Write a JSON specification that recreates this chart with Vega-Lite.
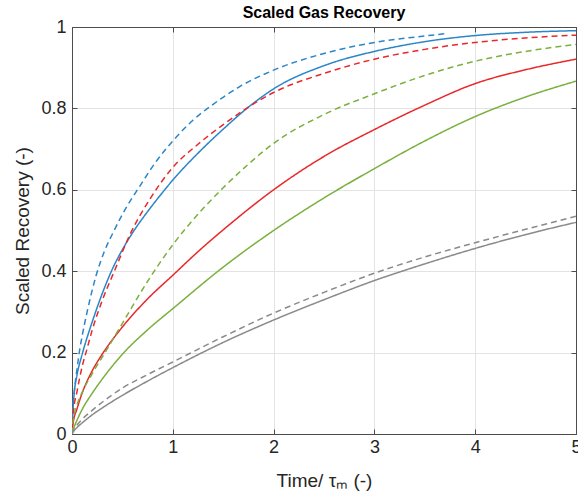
{
  "$schema": "https://vega.github.io/schema/vega-lite/v6.json",
  "autosize": {"type": "none"},
  "width": 504,
  "height": 407,
  "padding": {"left": 72, "top": 27, "right": 2, "bottom": 70},
  "background": "white",
  "config": {
    "font": "Liberation Sans",
    "view": {"stroke": "#4d4d4d", "strokeWidth": 1}
  },
  "title": {
    "text": "Scaled Gas Recovery",
    "fontSize": 16,
    "fontWeight": "bold",
    "color": "#000000",
    "anchor": "middle",
    "offset": -3
  },
  "data": {
    "values": [
      {"case": "c1", "line": "solid", "time": 0, "recovery": 0},
      {"case": "c1", "line": "solid", "time": 0.01, "recovery": 0.06},
      {"case": "c1", "line": "solid", "time": 0.02, "recovery": 0.095},
      {"case": "c1", "line": "solid", "time": 0.05, "recovery": 0.145},
      {"case": "c1", "line": "solid", "time": 0.1, "recovery": 0.195},
      {"case": "c1", "line": "solid", "time": 0.2, "recovery": 0.275},
      {"case": "c1", "line": "solid", "time": 0.3, "recovery": 0.345},
      {"case": "c1", "line": "solid", "time": 0.4, "recovery": 0.405},
      {"case": "c1", "line": "solid", "time": 0.5, "recovery": 0.453},
      {"case": "c1", "line": "solid", "time": 0.6, "recovery": 0.494},
      {"case": "c1", "line": "solid", "time": 0.77, "recovery": 0.553},
      {"case": "c1", "line": "solid", "time": 0.9, "recovery": 0.594},
      {"case": "c1", "line": "solid", "time": 1.0, "recovery": 0.624},
      {"case": "c1", "line": "solid", "time": 1.25, "recovery": 0.69},
      {"case": "c1", "line": "solid", "time": 1.5, "recovery": 0.749},
      {"case": "c1", "line": "solid", "time": 1.75, "recovery": 0.803},
      {"case": "c1", "line": "solid", "time": 2.0, "recovery": 0.848},
      {"case": "c1", "line": "solid", "time": 2.5, "recovery": 0.905},
      {"case": "c1", "line": "solid", "time": 3.0, "recovery": 0.94},
      {"case": "c1", "line": "solid", "time": 3.5, "recovery": 0.964},
      {"case": "c1", "line": "solid", "time": 4.0, "recovery": 0.979},
      {"case": "c1", "line": "solid", "time": 4.5, "recovery": 0.987},
      {"case": "c1", "line": "solid", "time": 5.0, "recovery": 0.991},

      {"case": "c1", "line": "dashed", "time": 0, "recovery": 0},
      {"case": "c1", "line": "dashed", "time": 0.01, "recovery": 0.07},
      {"case": "c1", "line": "dashed", "time": 0.025, "recovery": 0.11},
      {"case": "c1", "line": "dashed", "time": 0.05, "recovery": 0.16},
      {"case": "c1", "line": "dashed", "time": 0.075, "recovery": 0.205},
      {"case": "c1", "line": "dashed", "time": 0.1, "recovery": 0.24},
      {"case": "c1", "line": "dashed", "time": 0.15, "recovery": 0.3},
      {"case": "c1", "line": "dashed", "time": 0.24, "recovery": 0.39},
      {"case": "c1", "line": "dashed", "time": 0.32, "recovery": 0.448},
      {"case": "c1", "line": "dashed", "time": 0.41, "recovery": 0.496},
      {"case": "c1", "line": "dashed", "time": 0.53, "recovery": 0.553},
      {"case": "c1", "line": "dashed", "time": 0.67, "recovery": 0.608},
      {"case": "c1", "line": "dashed", "time": 0.83, "recovery": 0.668},
      {"case": "c1", "line": "dashed", "time": 1.0, "recovery": 0.72},
      {"case": "c1", "line": "dashed", "time": 1.2, "recovery": 0.771},
      {"case": "c1", "line": "dashed", "time": 1.4, "recovery": 0.81},
      {"case": "c1", "line": "dashed", "time": 1.66, "recovery": 0.853},
      {"case": "c1", "line": "dashed", "time": 2.0, "recovery": 0.894},
      {"case": "c1", "line": "dashed", "time": 2.5, "recovery": 0.935},
      {"case": "c1", "line": "dashed", "time": 3.0, "recovery": 0.962},
      {"case": "c1", "line": "dashed", "time": 3.5, "recovery": 0.978},
      {"case": "c1", "line": "dashed", "time": 3.72, "recovery": 0.984},

      {"case": "c2", "line": "solid", "time": 0, "recovery": 0},
      {"case": "c2", "line": "solid", "time": 0.01, "recovery": 0.025},
      {"case": "c2", "line": "solid", "time": 0.05, "recovery": 0.062},
      {"case": "c2", "line": "solid", "time": 0.1, "recovery": 0.1},
      {"case": "c2", "line": "solid", "time": 0.2, "recovery": 0.155},
      {"case": "c2", "line": "solid", "time": 0.3, "recovery": 0.196},
      {"case": "c2", "line": "solid", "time": 0.5, "recovery": 0.263},
      {"case": "c2", "line": "solid", "time": 0.75, "recovery": 0.332},
      {"case": "c2", "line": "solid", "time": 1.0, "recovery": 0.39},
      {"case": "c2", "line": "solid", "time": 1.25, "recovery": 0.448},
      {"case": "c2", "line": "solid", "time": 1.55, "recovery": 0.512},
      {"case": "c2", "line": "solid", "time": 2.0, "recovery": 0.6},
      {"case": "c2", "line": "solid", "time": 2.5, "recovery": 0.682},
      {"case": "c2", "line": "solid", "time": 3.0, "recovery": 0.748},
      {"case": "c2", "line": "solid", "time": 3.5, "recovery": 0.808},
      {"case": "c2", "line": "solid", "time": 4.0, "recovery": 0.861},
      {"case": "c2", "line": "solid", "time": 4.5, "recovery": 0.895},
      {"case": "c2", "line": "solid", "time": 5.0, "recovery": 0.921},

      {"case": "c2", "line": "dashed", "time": 0, "recovery": 0},
      {"case": "c2", "line": "dashed", "time": 0.01, "recovery": 0.045},
      {"case": "c2", "line": "dashed", "time": 0.05, "recovery": 0.105},
      {"case": "c2", "line": "dashed", "time": 0.1, "recovery": 0.165},
      {"case": "c2", "line": "dashed", "time": 0.15, "recovery": 0.21},
      {"case": "c2", "line": "dashed", "time": 0.2, "recovery": 0.255},
      {"case": "c2", "line": "dashed", "time": 0.3, "recovery": 0.328},
      {"case": "c2", "line": "dashed", "time": 0.42, "recovery": 0.4},
      {"case": "c2", "line": "dashed", "time": 0.575, "recovery": 0.49},
      {"case": "c2", "line": "dashed", "time": 0.77, "recovery": 0.576},
      {"case": "c2", "line": "dashed", "time": 1.0, "recovery": 0.655},
      {"case": "c2", "line": "dashed", "time": 1.25, "recovery": 0.712},
      {"case": "c2", "line": "dashed", "time": 1.5, "recovery": 0.76},
      {"case": "c2", "line": "dashed", "time": 1.75, "recovery": 0.803},
      {"case": "c2", "line": "dashed", "time": 2.0, "recovery": 0.839},
      {"case": "c2", "line": "dashed", "time": 2.5, "recovery": 0.886},
      {"case": "c2", "line": "dashed", "time": 3.0, "recovery": 0.921},
      {"case": "c2", "line": "dashed", "time": 3.5, "recovery": 0.945},
      {"case": "c2", "line": "dashed", "time": 4.0, "recovery": 0.962},
      {"case": "c2", "line": "dashed", "time": 4.5, "recovery": 0.973},
      {"case": "c2", "line": "dashed", "time": 5.0, "recovery": 0.98},

      {"case": "c3", "line": "solid", "time": 0, "recovery": 0},
      {"case": "c3", "line": "solid", "time": 0.02, "recovery": 0.016},
      {"case": "c3", "line": "solid", "time": 0.05, "recovery": 0.034},
      {"case": "c3", "line": "solid", "time": 0.1, "recovery": 0.06},
      {"case": "c3", "line": "solid", "time": 0.2, "recovery": 0.1},
      {"case": "c3", "line": "solid", "time": 0.3, "recovery": 0.135},
      {"case": "c3", "line": "solid", "time": 0.5, "recovery": 0.196},
      {"case": "c3", "line": "solid", "time": 0.75, "recovery": 0.256},
      {"case": "c3", "line": "solid", "time": 1.0, "recovery": 0.308},
      {"case": "c3", "line": "solid", "time": 1.5, "recovery": 0.41},
      {"case": "c3", "line": "solid", "time": 2.0, "recovery": 0.5},
      {"case": "c3", "line": "solid", "time": 2.5, "recovery": 0.58},
      {"case": "c3", "line": "solid", "time": 3.0, "recovery": 0.652},
      {"case": "c3", "line": "solid", "time": 3.5, "recovery": 0.72},
      {"case": "c3", "line": "solid", "time": 4.0, "recovery": 0.78},
      {"case": "c3", "line": "solid", "time": 4.5, "recovery": 0.828},
      {"case": "c3", "line": "solid", "time": 5.0, "recovery": 0.867},

      {"case": "c3", "line": "dashed", "time": 0, "recovery": 0},
      {"case": "c3", "line": "dashed", "time": 0.005, "recovery": 0.02},
      {"case": "c3", "line": "dashed", "time": 0.02, "recovery": 0.045},
      {"case": "c3", "line": "dashed", "time": 0.05, "recovery": 0.072},
      {"case": "c3", "line": "dashed", "time": 0.1, "recovery": 0.102},
      {"case": "c3", "line": "dashed", "time": 0.2, "recovery": 0.148},
      {"case": "c3", "line": "dashed", "time": 0.335, "recovery": 0.203},
      {"case": "c3", "line": "dashed", "time": 0.5, "recovery": 0.272},
      {"case": "c3", "line": "dashed", "time": 0.75, "recovery": 0.375},
      {"case": "c3", "line": "dashed", "time": 1.0, "recovery": 0.465},
      {"case": "c3", "line": "dashed", "time": 1.25, "recovery": 0.54},
      {"case": "c3", "line": "dashed", "time": 1.5, "recovery": 0.605},
      {"case": "c3", "line": "dashed", "time": 1.75, "recovery": 0.663},
      {"case": "c3", "line": "dashed", "time": 2.0, "recovery": 0.714},
      {"case": "c3", "line": "dashed", "time": 2.5, "recovery": 0.785},
      {"case": "c3", "line": "dashed", "time": 3.0, "recovery": 0.836},
      {"case": "c3", "line": "dashed", "time": 3.5, "recovery": 0.881},
      {"case": "c3", "line": "dashed", "time": 4.0, "recovery": 0.916},
      {"case": "c3", "line": "dashed", "time": 4.5, "recovery": 0.94},
      {"case": "c3", "line": "dashed", "time": 5.0, "recovery": 0.957},

      {"case": "c4", "line": "solid", "time": 0, "recovery": 0},
      {"case": "c4", "line": "solid", "time": 0.02, "recovery": 0.008},
      {"case": "c4", "line": "solid", "time": 0.05, "recovery": 0.016},
      {"case": "c4", "line": "solid", "time": 0.1, "recovery": 0.027},
      {"case": "c4", "line": "solid", "time": 0.2, "recovery": 0.047},
      {"case": "c4", "line": "solid", "time": 0.3, "recovery": 0.064},
      {"case": "c4", "line": "solid", "time": 0.5, "recovery": 0.095},
      {"case": "c4", "line": "solid", "time": 0.75, "recovery": 0.13},
      {"case": "c4", "line": "solid", "time": 1.0, "recovery": 0.163},
      {"case": "c4", "line": "solid", "time": 1.5, "recovery": 0.225},
      {"case": "c4", "line": "solid", "time": 2.0, "recovery": 0.28},
      {"case": "c4", "line": "solid", "time": 2.5, "recovery": 0.33},
      {"case": "c4", "line": "solid", "time": 3.0, "recovery": 0.377},
      {"case": "c4", "line": "solid", "time": 3.5, "recovery": 0.418},
      {"case": "c4", "line": "solid", "time": 4.0, "recovery": 0.456},
      {"case": "c4", "line": "solid", "time": 4.5, "recovery": 0.49},
      {"case": "c4", "line": "solid", "time": 5.0, "recovery": 0.52},

      {"case": "c4", "line": "dashed", "time": 0, "recovery": 0},
      {"case": "c4", "line": "dashed", "time": 0.02, "recovery": 0.012},
      {"case": "c4", "line": "dashed", "time": 0.05, "recovery": 0.022},
      {"case": "c4", "line": "dashed", "time": 0.1, "recovery": 0.036},
      {"case": "c4", "line": "dashed", "time": 0.2, "recovery": 0.058},
      {"case": "c4", "line": "dashed", "time": 0.3, "recovery": 0.078},
      {"case": "c4", "line": "dashed", "time": 0.5, "recovery": 0.113},
      {"case": "c4", "line": "dashed", "time": 0.75, "recovery": 0.146},
      {"case": "c4", "line": "dashed", "time": 1.0, "recovery": 0.177},
      {"case": "c4", "line": "dashed", "time": 1.5, "recovery": 0.239},
      {"case": "c4", "line": "dashed", "time": 2.0, "recovery": 0.297},
      {"case": "c4", "line": "dashed", "time": 2.5, "recovery": 0.348},
      {"case": "c4", "line": "dashed", "time": 3.0, "recovery": 0.395},
      {"case": "c4", "line": "dashed", "time": 3.5, "recovery": 0.435},
      {"case": "c4", "line": "dashed", "time": 4.0, "recovery": 0.47},
      {"case": "c4", "line": "dashed", "time": 4.5, "recovery": 0.503},
      {"case": "c4", "line": "dashed", "time": 5.0, "recovery": 0.535}
    ]
  },
  "layer": [
    {
      "mark": {"type": "line", "strokeWidth": 1.5, "interpolate": "monotone", "clip": true},
      "encoding": {
        "x": {
          "field": "time",
          "type": "quantitative",
          "scale": {"domain": [0, 5], "nice": false, "zero": false},
          "axis": {
            "title": "Time/ τₘ (-)",
            "values": [0, 1, 2, 3, 4, 5],
            "format": "d",
            "labelFlush": false,
            "labelFontSize": 18,
            "labelColor": "#262626",
            "labelPadding": 9,
            "titleFontSize": 19,
            "titleFontWeight": "normal",
            "titleColor": "#262626",
            "titlePadding": 15,
            "domainColor": "#4d4d4d",
            "tickColor": "#4d4d4d",
            "tickSize": -5,
            "gridColor": "#e3e3e3",
            "gridWidth": 1
          }
        },
        "y": {
          "field": "recovery",
          "type": "quantitative",
          "scale": {"domain": [0, 1], "nice": false},
          "axis": {
            "title": "Scaled Recovery (-)",
            "values": [0, 0.2, 0.4, 0.6, 0.8, 1],
            "format": "~g",
            "labelFlush": false,
            "labelFontSize": 18,
            "labelColor": "#262626",
            "labelPadding": 11,
            "titleFontSize": 19,
            "titleFontWeight": "normal",
            "titleColor": "#262626",
            "titlePadding": 8,
            "domainColor": "#4d4d4d",
            "tickColor": "#4d4d4d",
            "tickSize": -5,
            "gridColor": "#e3e3e3",
            "gridWidth": 1
          }
        },
        "color": {
          "field": "case",
          "type": "nominal",
          "scale": {"domain": ["c1", "c2", "c3", "c4"], "range": ["#2b86c8", "#e8282b", "#7ab03e", "#8a8a8a"]},
          "legend": null
        },
        "strokeDash": {
          "field": "line",
          "type": "nominal",
          "scale": {"domain": ["solid", "dashed"], "range": [[1, 0], [6, 4]]},
          "legend": null
        },
        "detail": {"field": "line"}
      }
    },
    {
      "mark": {"type": "line", "strokeOpacity": 0},
      "encoding": {
        "x": {
          "field": "time",
          "type": "quantitative",
          "axis": {
            "orient": "top",
            "title": null,
            "values": [0, 1, 2, 3, 4, 5],
            "labels": false,
            "grid": false,
            "domainColor": "#4d4d4d",
            "tickColor": "#4d4d4d",
            "tickSize": -5
          }
        },
        "y": {
          "field": "recovery",
          "type": "quantitative",
          "axis": {
            "orient": "right",
            "title": null,
            "values": [0, 0.2, 0.4, 0.6, 0.8, 1],
            "labels": false,
            "grid": false,
            "domainColor": "#4d4d4d",
            "tickColor": "#4d4d4d",
            "tickSize": -5
          }
        },
        "detail": {"field": "case"}
      }
    }
  ],
  "resolve": {"axis": {"x": "independent", "y": "independent"}}
}
